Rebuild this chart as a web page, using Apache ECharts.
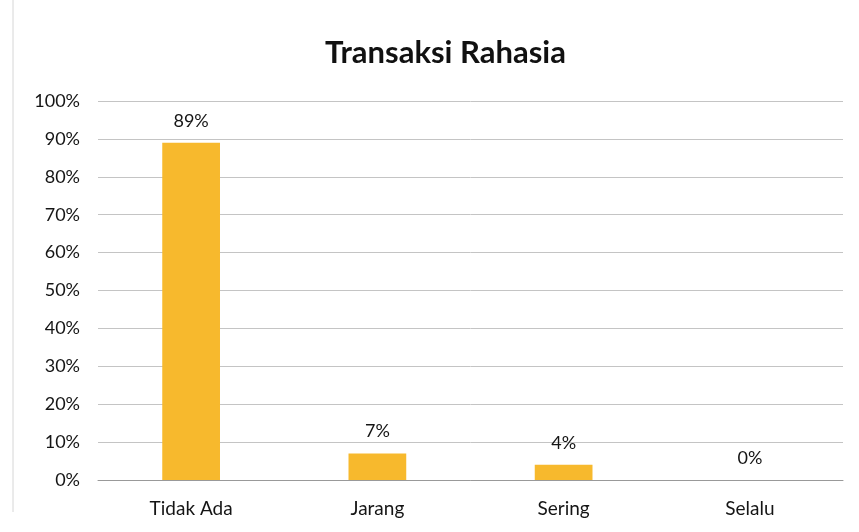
<!DOCTYPE html>
<html>
<head>
<meta charset="utf-8">
<script src="https://cdn.jsdelivr.net/npm/echarts@6/dist/echarts.min.js"></script>
<style>
  html, body { margin: 0; padding: 0; background: #fff; }
  #chart { width: 859px; height: 532px; }
</style>
</head>
<body>
<div id="chart"></div>
<script>
const categories = ['Tidak Ada', 'Jarang', 'Sering', 'Selalu']
const values = [89, 7, 4, 0]

const chart = echarts.init(document.getElementById('chart'))

const option = {
  backgroundColor: '#fff',
  textStyle: { fontFamily: 'Lato' },
  title: {
    text: 'Transaksi Rahasia',
    left: 320,
    top: 32,
    textStyle: { fontSize: 31, fontWeight: 'bold', color: '#111', fontFamily: 'Lato' }
  },
  // faint left border of the original chart frame
  graphic: [
    {
      type: 'line',
      shape: { x1: 13, y1: 0, x2: 13, y2: 512 },
      style: { stroke: '#d6d6d6', lineWidth: 1 }
    }
  ],
  grid: { left: 98, right: 16, top: 101, bottom: 52 },
  xAxis: {
    type: 'category',
    data: categories,
    axisLine: { lineStyle: { color: '#999' } },
    axisTick: { show: false },
    axisLabel: { fontSize: 19, color: '#151515', margin: 19 }
  },
  yAxis: {
    type: 'value',
    min: 0,
    max: 100,
    interval: 10,
    axisLabel: { formatter: '{value}%', fontSize: 18, color: '#151515', margin: 18 },
    axisLine: { show: false },
    splitLine: { lineStyle: { color: '#c4c4c4' } }
  },
  series: [
    {
      type: 'bar',
      data: values,
      barWidth: '31%',
      itemStyle: { color: '#F7B92D' },
      label: {
        show: true,
        position: 'top',
        formatter: '{c}%',
        fontSize: 18,
        color: '#151515',
        distance: 13
      }
    }
  ]
}

chart.setOption(option)
</script>
</body>
</html>
